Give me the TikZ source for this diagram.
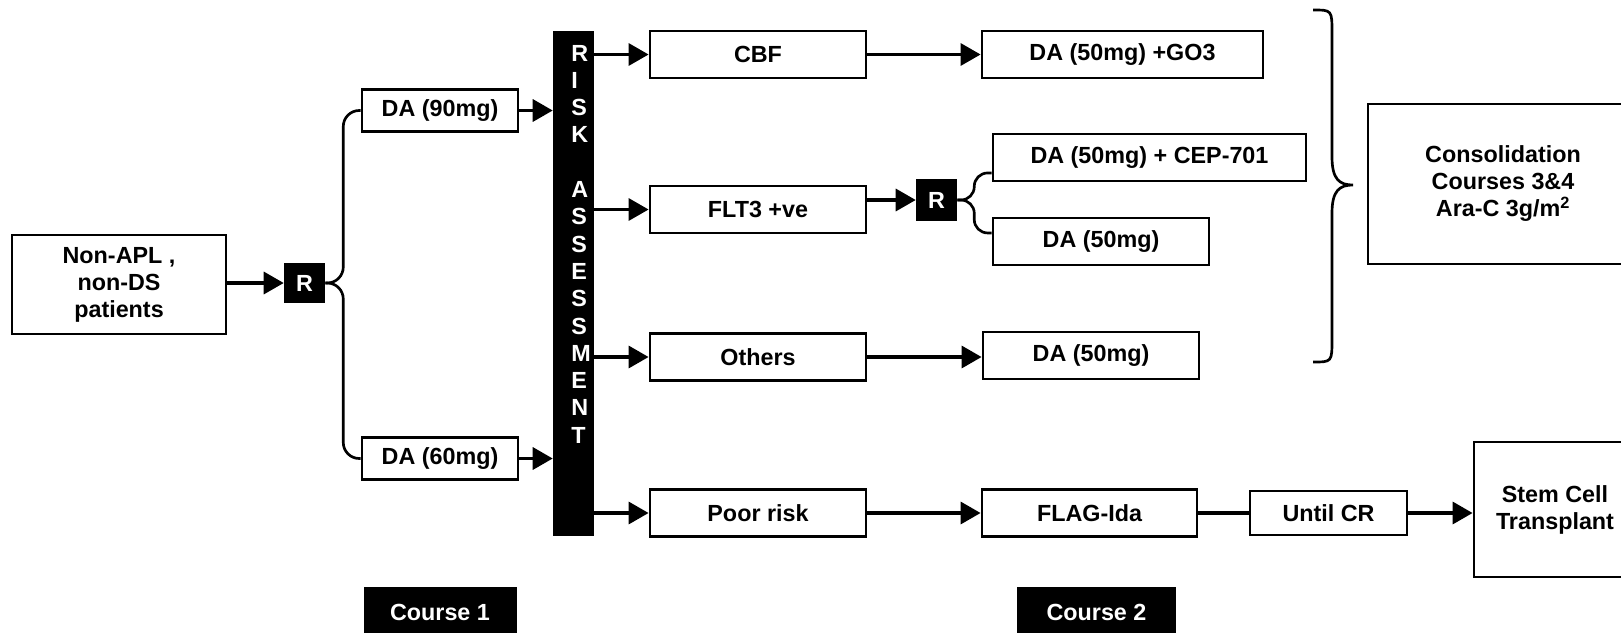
\documentclass[tikz,border=0pt]{standalone}
\usepackage{fontspec}
\setmainfont{Liberation Sans}
\usetikzlibrary{arrows.meta,calc}

\newcommand{\diafont}{\fontsize{17.5pt}{20.25pt}\selectfont\bfseries}

\tikzset{
  box/.style={draw, line width=2.1pt, inner sep=0pt, align=center},
  rbox/.style={fill=black, text=white, inner sep=0pt, minimum width=30.75pt},
  arr/.style={line width=2.5pt, -{Triangle[length=15pt,width=16.5pt]}},
  link/.style={line width=2.5pt},
  forkline/.style={line width=2pt, rounded corners=12pt},
}

\begin{document}
\begin{tikzpicture}[x=0.75pt,y=0.75pt,yscale=-1,xscale=1,font=\diafont]
    \useasboundingbox (0,0) rectangle (1621,632);

    % Course 1
    \node[box, minimum width=160.5pt, minimum height=74.25pt] (pat) at (119,284.5) {Non-APL ,\\non-DS\\patients};
    \node[rbox, minimum height=30pt] (r1) at (304.5,283) {R};
    \node[box, minimum width=117pt, minimum height=31.5pt] (da90) at (440,110.5) {DA (90mg)};
    \node[box, minimum width=117pt, minimum height=31.5pt] (da60) at (440,458.5) {DA (60mg)};

    % Risk assessment bar
    \node[fill=black, inner sep=0pt, minimum width=30.75pt, minimum height=378.75pt] (risk) at (573.5,283.5) {};
    \foreach \ch [count=\i from 0] in {R,I,S,K,{},A,S,S,E,S,S,M,E,N,T}
        \node[text=white, anchor=west, inner sep=0pt] (l\i) at (571,{53+27.3*\i}) {\ch};

    % Course 2
    \node[box, minimum width=162pt, minimum height=35.25pt] (cbf) at (758,54.5) {CBF};
    \node[box, minimum width=162pt, minimum height=35.25pt] (flt) at (758,209.5) {FLT3 +ve};
    \node[box, minimum width=162pt, minimum height=35.25pt] (others) at (758,357) {Others};
    \node[box, minimum width=162pt, minimum height=35.25pt] (poor) at (758,513) {Poor risk};
    \node[rbox, minimum height=31.5pt] (r2) at (936.5,200) {R};
    \node[box, minimum width=210.75pt, minimum height=35.25pt] (go3) at (1122.5,54.5) {DA (50mg) +GO3};
    \node[box, minimum width=234.75pt, minimum height=35.25pt] (cep) at (1149.5,157.5) {DA (50mg) + CEP-701};
    \node[box, minimum width=162pt, minimum height=35.25pt] (dab) at (1101,241.5) {DA (50mg)};
    \node[box, minimum width=162pt, minimum height=35.25pt] (dac) at (1091,355.5) {DA (50mg)};
    \node[box, minimum width=161.25pt, minimum height=35.25pt] (flag) at (1089.5,513) {FLAG-Ida};
    \node[box, minimum width=117.75pt, minimum height=33pt] (until) at (1328.5,513) {Until CR};

    % Consolidation and transplant
    \node[box, minimum width=202.5pt, minimum height=120pt] (cons) at (1503,184) {Consolidation\\Courses 3\&4\\Ara-C 3g/m\textsuperscript{2}};
    \node[box, minimum width=121.5pt, minimum height=101.25pt] (stem) at (1555,509.5) {Stem Cell\\Transplant};

    % Course labels
    \node[fill=black, text=white, inner sep=0pt, minimum width=114.75pt, minimum height=37.5pt] (c1) at (440,612) {Course 1};
    \node[fill=black, text=white, inner sep=0pt, minimum width=119.25pt, minimum height=37.5pt] (c2) at (1096.5,612) {Course 2};

    % Connectors
    \draw[arr] (pat.east |- r1) -- (r1.west);
    \draw[forkline] (r1.east) -- ++(18,0) |- (da90.west);
    \draw[forkline] (r1.east) -- ++(18,0) |- (da60.west);
    \draw[arr] (da90.east) -- (da90.east -| risk.west);
    \draw[arr] (da60.east) -- (da60.east -| risk.west);

    \draw[arr] (cbf.west -| risk.east) -- (cbf.west);
    \draw[arr] (flt.west -| risk.east) -- (flt.west);
    \draw[arr] (others.west -| risk.east) -- (others.west);
    \draw[arr] (poor.west -| risk.east) -- (poor.west);

    \draw[arr] (cbf) -- (go3);
    \draw[arr] (flt.east |- r2) -- (r2.west);
    \draw[forkline, rounded corners=10pt] (r2.east) -- ++(17,0) |- ([yshift=11.6pt]cep.west);
    \draw[forkline, rounded corners=10pt] (r2.east) -- ++(17,0) |- ([yshift=-6.4pt]dab.west);
    \draw[arr] (others.east) -- (others.east -| dac.west);
    \draw[arr] (poor) -- (flag);
    \draw[link] (flag) -- (until);
    \draw[arr] (until.east) -- (until.east -| stem.west);

    %Shape: Brace
    \draw[line width=2pt] (1313,10) .. controls (1332,10) .. (1332,33) -- (1332,157) .. controls (1332,180) and (1340,185) .. (1353,185) .. controls (1340,185) and (1332,190) .. (1332,213) -- (1332,339) .. controls (1332,362) .. (1313,362);

\end{tikzpicture}
\end{document}
